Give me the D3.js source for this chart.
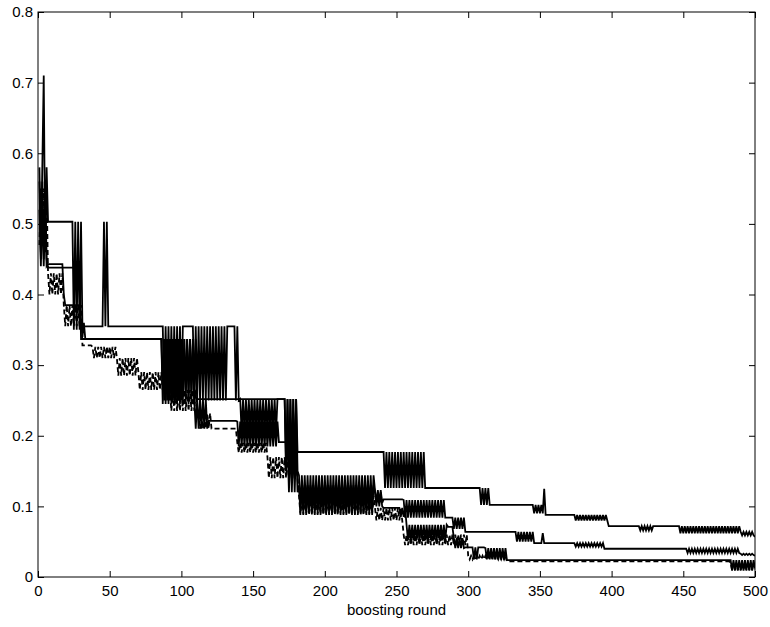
<!DOCTYPE html>
<html>
<head>
<meta charset="utf-8">
<script src="https://cdn.jsdelivr.net/npm/d3@7"></script>
<style>
  body { margin: 0; background: #fff; }
  svg { font-family: "Liberation Sans", Arial, sans-serif; }
  .axis text { font-size: 15px; fill: #000; }
  .axis line { stroke: #000; }
</style>
</head>
<body>
<svg width="770" height="627"></svg>
<script>
// tick values
var xTicks = [0, 50, 100, 150, 200, 250, 300, 350, 400, 450, 500];
var yTicks = [0, 0.1, 0.2, 0.3, 0.4, 0.5, 0.6, 0.7, 0.8];
var yTickLabels = ["0", "0.1", "0.2", "0.3", "0.4", "0.5", "0.6", "0.7", "0.8"];

// each run: [first round, next run's round, value, alternate value]
// the value flips between the two on every round of the run
var runsA = [
  [1, 4, 0.58, 0.46], [4, 5, 0.71, 0.71], [5, 7, 0.46, 0.58],
  [7, 24, 0.503, 0.503], [24, 32, 0.503, 0.35], [32, 46, 0.355, 0.355],
  [46, 50, 0.503, 0.355], [50, 87, 0.355, 0.355], [87, 101, 0.355, 0.25],
  [101, 108, 0.355, 0.355], [108, 132, 0.355, 0.25], [132, 137, 0.355, 0.355],
  [137, 141, 0.355, 0.25], [141, 168, 0.252, 0.205], [168, 172, 0.252, 0.252],
  [172, 181, 0.252, 0.15], [181, 241, 0.177, 0.177], [241, 270, 0.177, 0.126],
  [270, 308, 0.126, 0.126], [308, 316, 0.126, 0.102], [316, 345, 0.102, 0.102],
  [345, 353, 0.102, 0.09], [353, 354, 0.125, 0.125], [354, 374, 0.088, 0.088],
  [374, 398, 0.088, 0.08], [398, 419, 0.072, 0.072], [419, 429, 0.072, 0.066],
  [429, 447, 0.072, 0.072], [447, 490, 0.072, 0.062], [490, 500, 0.064, 0.059],
  [500, 501, 0.057, 0.057]
];
var runsB = [
  [1, 7, 0.56, 0.45], [7, 30, 0.438, 0.438], [30, 86, 0.337, 0.337],
  [86, 111, 0.337, 0.245], [111, 172, 0.252, 0.252], [172, 182, 0.252, 0.15],
  [182, 235, 0.144, 0.095], [235, 241, 0.123, 0.105], [241, 255, 0.11, 0.11],
  [255, 285, 0.109, 0.084], [285, 289, 0.084, 0.084], [289, 298, 0.084, 0.068],
  [298, 333, 0.064, 0.064], [333, 346, 0.064, 0.05], [346, 352, 0.048, 0.048],
  [352, 353, 0.062, 0.062], [353, 374, 0.048, 0.048], [374, 395, 0.048, 0.043],
  [395, 452, 0.04, 0.04], [452, 490, 0.04, 0.034], [490, 500, 0.033, 0.031],
  [500, 501, 0.03, 0.03]
];
var runsC = [
  [1, 7, 0.52, 0.44], [7, 18, 0.443, 0.443], [18, 19, 0.4, 0.4],
  [19, 30, 0.385, 0.385], [30, 33, 0.36, 0.34], [33, 86, 0.337, 0.337],
  [86, 109, 0.337, 0.265], [109, 119, 0.252, 0.21], [119, 139, 0.221, 0.221],
  [139, 168, 0.22, 0.185], [168, 174, 0.191, 0.191], [174, 182, 0.191, 0.12],
  [182, 235, 0.13, 0.09], [235, 241, 0.12, 0.1], [241, 252, 0.098, 0.098],
  [252, 257, 0.098, 0.085], [257, 286, 0.074, 0.052], [286, 290, 0.071, 0.071],
  [290, 298, 0.055, 0.041], [298, 303, 0.042, 0.042], [303, 308, 0.042, 0.025],
  [308, 312, 0.042, 0.042], [312, 327, 0.041, 0.025], [327, 483, 0.024, 0.024],
  [483, 500, 0.024, 0.009], [500, 501, 0.012, 0.012]
];
var runsD = [
  [1, 7, 0.47, 0.55], [7, 18, 0.43, 0.4], [18, 31, 0.385, 0.355],
  [31, 38, 0.328, 0.328], [38, 55, 0.326, 0.31], [55, 70, 0.31, 0.285],
  [70, 92, 0.29, 0.265], [92, 112, 0.265, 0.235], [112, 121, 0.232, 0.21],
  [121, 139, 0.21, 0.21], [139, 160, 0.19, 0.176], [160, 182, 0.17, 0.14],
  [182, 235, 0.115, 0.088], [235, 255, 0.098, 0.08], [255, 300, 0.06, 0.045],
  [300, 327, 0.03, 0.025], [327, 483, 0.022, 0.022], [483, 501, 0.02, 0.01]
];

var svg = d3.select("svg"),
    margin = {top: 12, right: 15, bottom: 50, left: 38},
    width = +svg.attr("width") - margin.left - margin.right,
    height = +svg.attr("height") - margin.top - margin.bottom;

var x = d3.scaleLinear().domain([0, 500]).range([0, width]),
    y = d3.scaleLinear().domain([0, 0.8]).range([height, 0]);

var g = svg.append("g")
    .attr("transform", "translate(" + margin.left + "," + margin.top + ")");

function expand(runs) {
  var pts = [];
  runs.forEach(function(r) {
    for (var k = r[0]; k < r[1]; k++) {
      pts.push([k, (k - r[0]) % 2 === 0 ? r[2] : r[3]]);
    }
  });
  return pts;
}

svg.append("defs").append("clipPath").attr("id", "plot")
  .append("rect").attr("width", width).attr("height", height);

var line = d3.line()
    .x(function(d) { return x(d[0]); })
    .y(function(d) { return y(d[1]); });

var lines = g.append("g").attr("clip-path", "url(#plot)");

lines.append("path")
    .datum(expand(runsD))
    .attr("fill", "none")
    .attr("stroke", "#000")
    .attr("stroke-width", 1.8)
    .attr("stroke-dasharray", "5,3")
    .attr("d", line);

[runsC, runsB, runsA].forEach(function(runs) {
  lines.append("path")
      .datum(expand(runs))
      .attr("fill", "none")
      .attr("stroke", "#000")
      .attr("stroke-width", 1.8)
      .attr("d", line);
});

// axes, ticks pointing inward on all four sides
g.append("g").attr("class", "axis")
    .attr("transform", "translate(0," + height + ")")
    .call(d3.axisBottom(x).tickValues(xTicks).tickSizeInner(-6).tickSizeOuter(0).tickPadding(8))
    .call(function(a) { a.select(".domain").remove(); });

g.append("g").attr("class", "axis")
    .call(d3.axisLeft(y).tickValues(yTicks).tickSizeInner(-6).tickSizeOuter(0).tickPadding(5)
      .tickFormat(function(d, i) { return yTickLabels[i]; }))
    .call(function(a) { a.select(".domain").remove(); });

g.append("g").attr("class", "axis")
    .call(d3.axisTop(x).tickValues(xTicks).tickSizeInner(-6).tickSizeOuter(0).tickFormat(""))
    .call(function(a) { a.select(".domain").remove(); });

g.append("g").attr("class", "axis")
    .attr("transform", "translate(" + width + ",0)")
    .call(d3.axisRight(y).tickValues(yTicks).tickSizeInner(-6).tickSizeOuter(0).tickFormat(""))
    .call(function(a) { a.select(".domain").remove(); });

g.append("rect")
    .attr("width", width)
    .attr("height", height)
    .attr("fill", "none")
    .attr("stroke", "#000")
    .attr("stroke-width", 1);

g.append("text")
    .attr("x", width / 2)
    .attr("y", height + 38)
    .attr("text-anchor", "middle")
    .style("font-size", "15px")
    .text("boosting round");
</script>
</body>
</html>
